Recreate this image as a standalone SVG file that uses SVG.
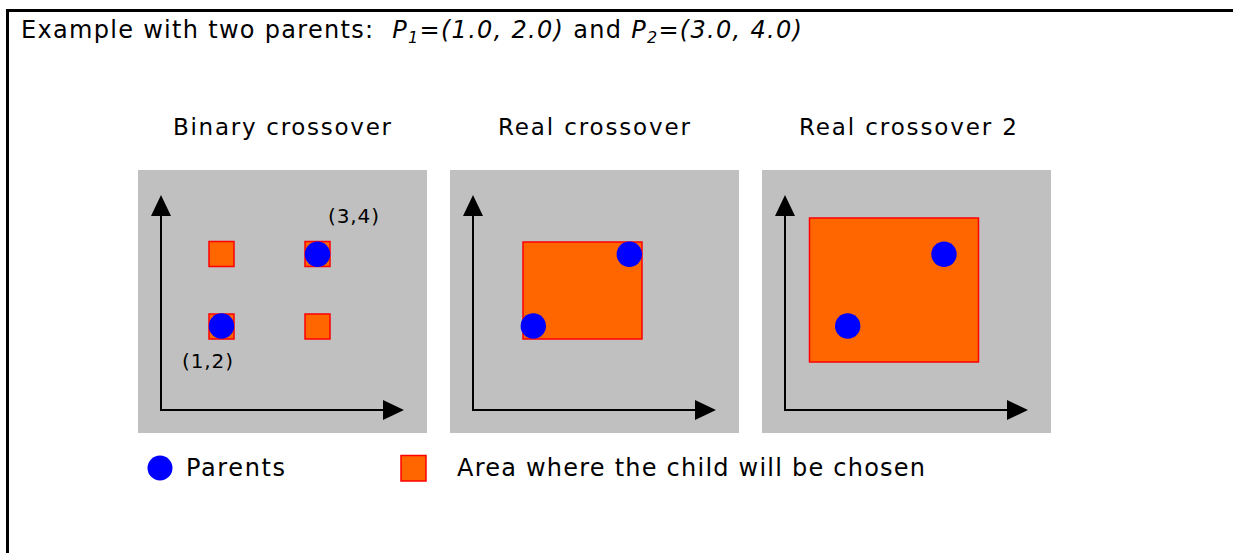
<svg xmlns="http://www.w3.org/2000/svg" width="1233" height="553" viewBox="0 0 1233 553">
<style>
text{font-family:"DejaVu Sans",Verdana,sans-serif;fill:#000}
.t{font-size:24px;letter-spacing:1.3px}
.sub{font-size:23px}
.lbl{font-size:20px}
.leg{font-size:24px}
.bg{fill:#C0C0C0}
.area{fill:#FF6600;stroke:#FF0000;stroke-width:1.5}
.par{fill:#0000FF}
.ax{stroke:#000;stroke-width:2;fill:none}
.ah{fill:#000}
</style>
<rect width="1233" height="553" fill="#fff"/>
<g id="frame">
<line x1="6" y1="10.5" x2="1233" y2="10.5" stroke="#000" stroke-width="3"/>
<line x1="7.5" y1="9" x2="7.5" y2="553" stroke="#000" stroke-width="3"/>
</g>
<g id="title">
<text class="t" x="21" y="38" xml:space="preserve">Example with two parents:  <tspan font-style="italic">P<tspan font-size="16" dy="5">1</tspan><tspan dy="-5">=(1.0, 2.0)</tspan></tspan> and <tspan font-style="italic">P<tspan font-size="16" dy="5">2</tspan><tspan dy="-5">=(3.0, 4.0)</tspan></tspan></text>
</g>
<g id="panel-binary">
<text class="sub" x="173" y="135" textLength="218" lengthAdjust="spacing">Binary crossover</text>
<rect class="bg" x="138" y="170" width="289" height="263"/>
<rect class="area" x="209" y="241.5" width="25" height="25"/>
<rect class="area" x="305" y="241.5" width="25" height="25"/>
<rect class="area" x="209" y="314" width="25" height="25"/>
<rect class="area" x="305" y="314" width="25" height="25"/>
<circle class="par" cx="221.5" cy="326" r="12.7"/>
<circle class="par" cx="317.5" cy="254.3" r="12.7"/>
<text class="lbl" x="328" y="223" textLength="51" lengthAdjust="spacing">(3,4)</text>
<text class="lbl" x="182" y="368" textLength="51" lengthAdjust="spacing">(1,2)</text>
</g>
<g id="panel-real">
<text class="sub" x="498" y="135" textLength="192" lengthAdjust="spacing">Real crossover</text>
<rect class="bg" x="450" y="170" width="289" height="263"/>
<rect class="area" x="523" y="242" width="119" height="97"/>
<circle class="par" cx="533.3" cy="326" r="12.7"/>
<circle class="par" cx="629.3" cy="254.3" r="12.7"/>
</g>
<g id="panel-real2">
<text class="sub" x="799" y="135" textLength="218" lengthAdjust="spacing">Real crossover 2</text>
<rect class="bg" x="762" y="170" width="289" height="263"/>
<rect class="area" x="809.5" y="218" width="169" height="144"/>
<circle class="par" cx="847.7" cy="326" r="12.7"/>
<circle class="par" cx="944" cy="254.3" r="12.7"/>
</g>
<g id="connectors">
<path class="ax" d="M161 215V410H383"/>
<path class="ah" d="M161 195L151 216H171Z M404 410L383 400V420Z"/>
<path class="ax" d="M473 215V410H695"/>
<path class="ah" d="M473 195L463 216H483Z M716 410L695 400V420Z"/>
<path class="ax" d="M785 215V410H1007"/>
<path class="ah" d="M785 195L775 216H795Z M1028 410L1007 400V420Z"/>
</g>
<g id="legend">
<circle class="par" cx="160" cy="468" r="12.5"/>
<text class="leg" x="186" y="476" textLength="99" lengthAdjust="spacing">Parents</text>
<rect class="area" x="401" y="455.5" width="25" height="25.5"/>
<text class="leg" x="457" y="476" textLength="468" lengthAdjust="spacing">Area where the child will be chosen</text>
</g>
</svg>
